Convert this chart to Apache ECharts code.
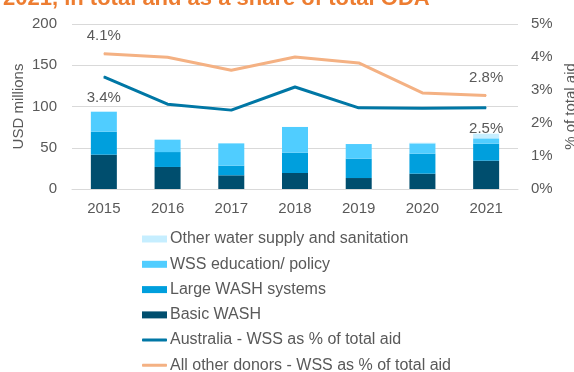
<!DOCTYPE html>
<html>
<head>
<meta charset="utf-8">
<script src="https://cdn.jsdelivr.net/npm/echarts@6/dist/echarts.min.js"></script>
<style>
  html, body { margin: 0; padding: 0; background: #fff; }
  #chart { width: 574px; height: 372px; }
</style>
</head>
<body>
<div id="chart"></div>
<script>
// Australian water supply & sanitation aid, 2015–2021
const years = ['2015', '2016', '2017', '2018', '2019', '2020', '2021'];

// USD millions, stacked
const basicWash = [41.6, 26.7, 16.6, 19.4, 13.3, 18.6, 34.3];
const largeWash = [27.9, 18.1, 11.7, 24.6, 23.5, 24.2, 20.7];
const wssEducation = [24.2, 15.0, 27.0, 31.2, 17.7, 12.5, 6.4];
const otherWss = [0, 0, 0, 0, 0, 0.8, 5.6];

// WSS as % of total aid
const australiaShare = [3.4, 2.57, 2.39, 3.09, 2.46, 2.45, 2.46];
const otherDonorsShare = [4.1, 3.99, 3.6, 4.0, 3.82, 2.91, 2.83];

const leftTicks = { min: 0, max: 200, interval: 50 };
const rightTicks = { min: 0, max: 5, interval: 1 };

const txt = '#595959';
const font = 'Liberation Sans, Arial, sans-serif';
const fs = 15;

// Show the value only on the first and last point of a line
function endLabels(values, pos, dist) {
  return values.map((v, i) => {
    const edge = i === 0 || i === values.length - 1;
    return {
      value: v,
      label: {
        show: edge,
        position: pos,
        distance: dist,
        color: txt,
        fontSize: fs,
        fontFamily: font,
        formatter: p => p.value.toFixed(1) + '%'
      }
    };
  });
}

const chart = echarts.init(document.getElementById('chart'), null, { renderer: 'canvas' });

const barSeries = (name, data, color) => ({
  name, type: 'bar', stack: 'wss', data, barWidth: 26,
  itemStyle: { color }, yAxisIndex: 0, emphasis: { disabled: true }
});

const lineSeries = (name, data, color) => ({
  name, type: 'line', yAxisIndex: 1, data,
  symbol: 'circle', symbolSize: 1, showSymbol: true,
  lineStyle: { color, width: 3 }, itemStyle: { color },
  emphasis: { disabled: true }
});

const legendText = { color: txt, fontSize: 16, lineHeight: 16, fontFamily: font, padding: [0, 0, 0, -2] };

chart.setOption({
  animation: false,
  title: {
    text: '2021, in total and as a share of total ODA',
    left: -2, top: -17,
    textStyle: { color: '#ED7D31', fontSize: 22, fontWeight: 'bold', fontFamily: font }
  },
  grid: { left: 72, right: 56, top: 24, bottom: 183, containLabel: false, outerBoundsMode: 'none' },
  legend: [
    {
      orient: 'vertical', left: 142, top: 231, padding: 0, height: 120,
      itemWidth: 25, itemHeight: 7, itemGap: 9.3, icon: 'rect',
      textStyle: legendText,
      data: [
        'Other water supply and sanitation',
        'WSS education/ policy',
        'Large WASH systems',
        'Basic WASH'
      ]
    },
    {
      orient: 'vertical', left: 142, top: 332, padding: 0, height: 80,
      itemWidth: 25, itemHeight: 3, itemGap: 9.3, icon: 'roundRect',
      textStyle: legendText,
      data: [
        'Australia - WSS as % of total aid',
        'All other donors - WSS as % of total aid'
      ]
    }
  ],
  xAxis: {
    type: 'category', data: years,
    axisLine: { lineStyle: { color: '#D9D9D9' } },
    axisTick: { show: false },
    axisLabel: { color: txt, fontSize: fs, fontFamily: font, margin: 12 }
  },
  yAxis: [
    {
      type: 'value', ...leftTicks,
      name: 'USD millions', nameLocation: 'middle', nameGap: 46, nameRotate: 90,
      nameMoveOverlap: false,
      nameTextStyle: { color: txt, fontSize: fs, fontFamily: font },
      axisLabel: { color: txt, fontSize: fs, fontFamily: font, margin: 15 },
      splitLine: { lineStyle: { color: '#D9D9D9' } }
    },
    {
      type: 'value', ...rightTicks, position: 'right',
      name: '% of total aid', nameLocation: 'middle', nameGap: 42, nameRotate: 90,
      nameTextStyle: { color: txt, fontSize: fs, fontFamily: font },
      axisLabel: { color: txt, fontSize: fs, fontFamily: font, margin: 13, formatter: '{value}%' },
      splitLine: { show: false }
    }
  ],
  series: [
    barSeries('Basic WASH', basicWash, '#004E6E'),
    barSeries('Large WASH systems', largeWash, '#009FDD'),
    barSeries('WSS education/ policy', wssEducation, '#50CDFF'),
    barSeries('Other water supply and sanitation', otherWss, '#C6EEFF'),
    lineSeries('Australia - WSS as % of total aid', endLabels(australiaShare, 'bottom', 13), '#0077A5'),
    lineSeries('All other donors - WSS as % of total aid', endLabels(otherDonorsShare, 'top', 10), '#F4B183')
  ]
});
</script>
</body>
</html>
